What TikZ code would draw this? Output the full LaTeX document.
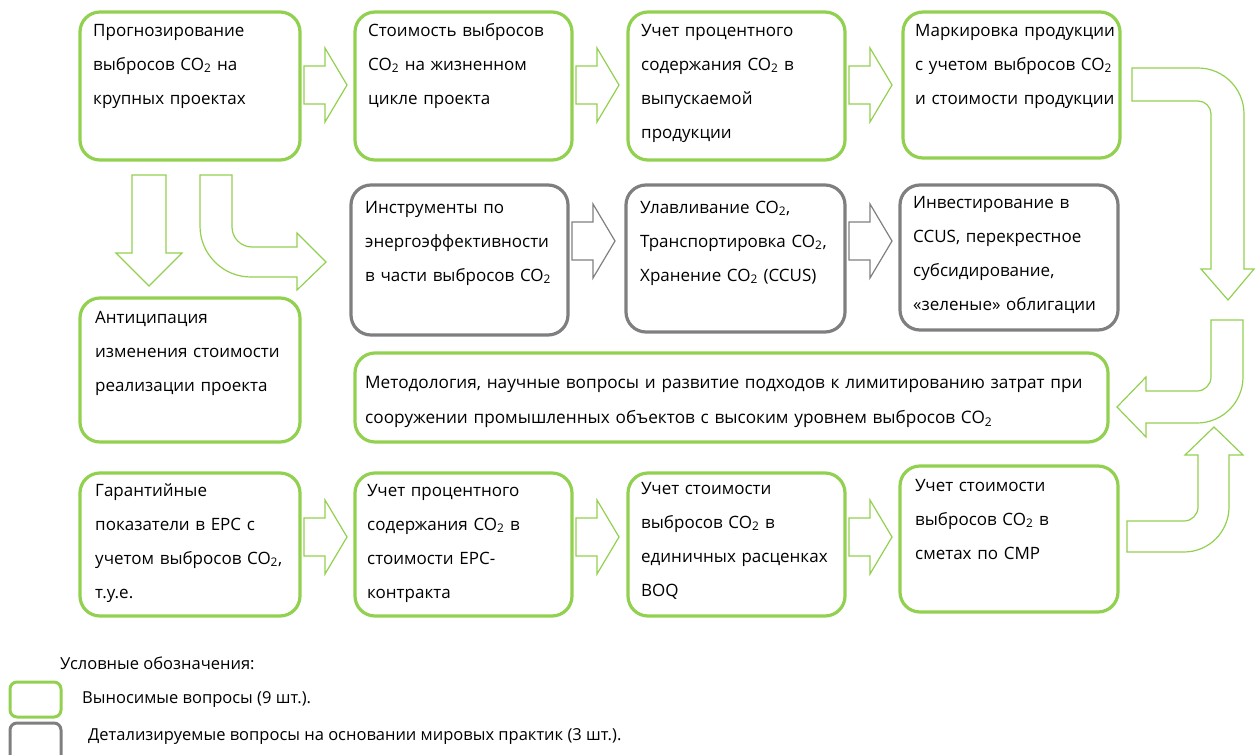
\documentclass[tikz,border=0pt]{standalone}
\usepackage{fontspec}
\setmainfont{Open Sans}
\usetikzlibrary{calc}
\definecolor{grn}{HTML}{92D050}
\definecolor{gry}{HTML}{7F7F7F}
\tikzset{
  qbox/.style={draw=#1,line width=3.2pt,rounded corners=20pt,anchor=north west,
    inner sep=0pt,outer sep=0pt},
  qtxt/.style={anchor=north west,inner sep=0pt,align=left,text width=230pt,
    font=\fontsize{17}{34}\selectfont,execute at begin node=\strut},
  barrow/.style={draw=#1,line width=1.2pt,line join=miter},
  legtxt/.style={anchor=west,inner sep=0pt,font=\fontsize{16.5}{20}\selectfont}
}
\begin{document}
\begin{tikzpicture}[x=1pt,y=-1pt]
 \useasboundingbox (0,0) rectangle (1256,755);
 % frames
 \foreach \n/\x/\y/\w/\h/\c in {a1/80/12/220/148/grn,a2/355/12/217/148/grn,
   a3/628/12/217/148/grn,a4/903/12/217/146/grn,b1/351/185/217/150/gry,
   b2/626/185/219/147/gry,b3/900/185/218/145/gry,c1/80/298/220/144/grn,
   m/355/353/753/89/grn,d1/80/473/220/143/grn,d2/355/473/217/143/grn,
   d3/628/473/217/143/grn,d4/900/466/218/146/grn}
  \node[qbox=\c,minimum width=\w pt,minimum height=\h pt] (\n) at (\x,\y) {};
 % texts
 \node[qtxt] (a1t) at (93,12) {Прогнозирование\\выбросов CO\textsubscript{2} на\\крупных проектах};
 \node[qtxt] (a2t) at (368,12) {Стоимость выбросов\\CO\textsubscript{2} на жизненном\\цикле проекта};
 \node[qtxt] (a3t) at (641,12) {Учет процентного\\содержания CO\textsubscript{2} в\\выпускаемой\\продукции};
 \node[qtxt] (a4t) at (915,12) {Маркировка продукции\\с учетом выбросов CO\textsubscript{2}\\и стоимости продукции};
 \node[qtxt] (b1t) at (365,189) {Инструменты по\\энергоэффективности\\в части выбросов CO\textsubscript{2}};
 \node[qtxt] (b2t) at (640,189) {Улавливание CO\textsubscript{2},\\Транспортировка CO\textsubscript{2},\\Хранение CO\textsubscript{2} (CCUS)};
 \node[qtxt] (b3t) at (913,184) {Инвестирование в\\CCUS, перекрестное\\субсидирование,\\«зеленые» облигации};
 \node[qtxt] (c1t) at (95,299) {Антиципация\\изменения стоимости\\реализации проекта};
 \node[qtxt,text width=745pt,font=\fontsize{17.2}{35}\selectfont] (mt) at (365,364)
  {Методология, научные вопросы и развитие подходов к лимитированию затрат при\\сооружении промышленных объектов с высоким уровнем выбросов CO\textsubscript{2}};
 \node[qtxt] (d1t) at (95,472) {Гарантийные\\показатели в EPC с\\учетом выбросов CO\textsubscript{2},\\т.у.е.};
 \node[qtxt] (d2t) at (367,472) {Учет процентного\\содержания CO\textsubscript{2} в\\стоимости EPC-\\контракта};
 \node[qtxt] (d3t) at (641,470) {Учет стоимости\\выбросов CO\textsubscript{2} в\\единичных расценках\\BOQ};
 \node[qtxt] (d4t) at (915,467) {Учет стоимости\\выбросов CO\textsubscript{2} в\\сметах по СМР};
 % straight block arrows
 \foreach \p/\yy/\c in {a1/85/grn,a2/85/grn,a3/85/grn,b1/241/gry,b2/241/gry,
   d1/537/grn,d2/537/grn,d3/537/grn}
  \draw[barrow=\c] ($(\p.east |- 0,\yy)+(4,0)$) ++(0,-19) -- ++(21,0) -- ++(0,-18)
   -- ++(22,37) -- ++(-22,37) -- ++(0,-18) -- ++(-21,0) -- cycle;
 % arrows out of a1
 \draw[barrow=grn] (132,175) -- (166,175) -- (166,253) -- (182,253) -- (149,286)
  -- (116,253) -- (132,253) -- cycle;
 \draw[barrow=grn] (200,175) -- (232,175) -- (232,227) arc[start angle=180,end angle=90,radius=20]
  -- (297,247) -- (297,233) -- (326,262) -- (297,290) -- (297,277) -- (251,277)
  arc[start angle=90,end angle=180,radius=51] -- cycle;
 % right side
 \draw[barrow=grn] (1132,68) -- (1198,68) arc[start angle=270,end angle=360,radius=46]
  -- (1244,269) -- (1254,269) -- (1228,300) -- (1201,269) -- (1211,269) -- (1211,114)
  arc[start angle=0,end angle=-90,radius=13] -- (1132,101) -- cycle;
 \draw[barrow=grn] (1211,320) -- (1243,320) -- (1243,377) arc[start angle=0,end angle=90,radius=46]
  -- (1146,423) -- (1146,437) -- (1117,407) -- (1146,377) -- (1146,391) -- (1197,391)
  arc[start angle=90,end angle=0,radius=14] -- cycle;
 \draw[barrow=grn] (1127,521) -- (1184,521) arc[start angle=90,end angle=0,radius=14]
  -- (1198,455) -- (1185,455) -- (1214,427) -- (1243,455) -- (1229,455) -- (1229,507)
  arc[start angle=0,end angle=90,radius=45] -- (1127,552) -- cycle;
 % legend
 \node[legtxt] (leghead) at (60,663) {Условные обозначения:};
 \node[qbox=grn,line width=3pt,rounded corners=7pt,minimum width=51pt,minimum height=35pt] (leggrn) at (10,682) {};
 \node[legtxt] (leggrnt) at (82,699) {Выносимые вопросы (9 шт.).};
 \draw[gry,line width=3pt,rounded corners=7pt] (10,756) -- (10,723) -- (61,723) -- (61,756);
 \node[legtxt] (leggryt) at (88,736) {Детализируемые вопросы на основании мировых практик (3 шт.).};
\end{tikzpicture}
\end{document}
